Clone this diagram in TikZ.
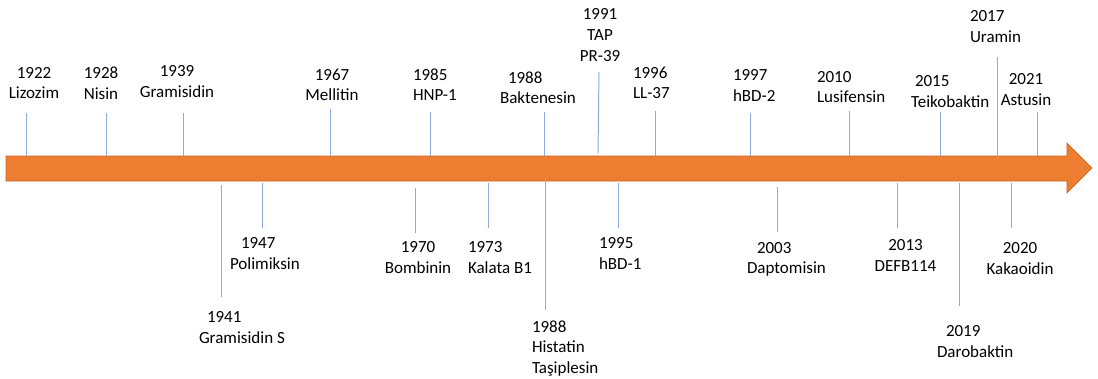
\documentclass[tikz,border=0pt]{standalone}
\usepackage{fontspec}
\setmainfont{Carlito}
\definecolor{arroworange}{HTML}{ED7D31}
\definecolor{arrowedge}{HTML}{C9651F}
\definecolor{tickblue}{HTML}{8FAADC}
\tikzset{
  lbl/.style={font=\fontsize{17}{20.7}\selectfont, inner sep=0pt, outer sep=0pt, text=black},
  lc/.style={lbl, align=center, anchor=north},
  ll/.style={lbl, align=left, anchor=north west},
  tick/.style={draw=tickblue, line width=1pt},
  timearrow/.style={fill=arroworange, draw=arrowedge, line width=0.6pt, line join=miter},
}
\begin{document}
\begin{tikzpicture}[x=1pt,y=-1pt]
\useasboundingbox (0,0) rectangle (1098,378);
% main arrow
\path[timearrow] (6,156) -- (1067,156) -- (1067,143) -- (1092,168) -- (1067,193) -- (1067,181) -- (6,181) -- cycle;

% labels above
\node[lc] (l1922) at (34,67.1) {1922\\Lizozim};
\node[lc] (l1928) at (101,67.1) {1928\\Nisin};
\node[lc] (l1939) at (177,65.6) {1939\\Gramisidin};
\node[lc] (l1967) at (332,68.6) {1967\\Mellitin};
\node[ll] (l1985) at (413,68.6) {1985\\HNP-1};
\node[ll] (l1988a) at (500,71.6) {\hspace{8pt}1988\\Baktenesin};
\node[lc] (l1991) at (600,8.6) {1991\\TAP\\PR-39};
\node[ll] (l1996) at (633,66.6) {1996\\LL-37};
\node[ll] (l1997) at (733,69.6) {1997\\hBD-2};
\node[ll] (l2010) at (817,71.1) {2010\\Lusifensin};
\node[ll] (l2015) at (911,75.6) {\hspace{4pt}2015\\Teikobaktin};
\node[ll] (l2017) at (970,10.6) {2017\\Uramin};
\node[lc] (l2021) at (1026,73.6) {2021\\Astusin};

% labels below
\node[ll] (l1941) at (199,311.6) {\hspace{8pt}1941\\Gramisidin S};
\node[ll] (l1947) at (230,237.6) {\hspace{11pt}1947\\Polimiksin};
\node[lc] (l1970) at (418,241.6) {1970\\Bombinin};
\node[ll] (l1973) at (468,241.6) {1973\\Kalata B1};
\node[ll] (l1988b) at (532,320.6) {1988\\Histatin\\Taşiplesin};
\node[ll] (l1995) at (599,237.6) {1995\\hBD-1};
\node[ll] (l2003) at (747,242.1) {\hspace{10pt}2003\\Daptomisin};
\node[lc] (l2013) at (905.5,239.6) {2013\\DEFB114};
\node[ll] (l2019) at (937,325.6) {\hspace{9pt}2019\\Darobaktin};
\node[lc] (l2020) at (1020,242.6) {2020\\Kakaoidin};

% tick coordinates (top items)
\coordinate (t1922a) at (26,113);   \coordinate (t1922b) at (26,156);
\coordinate (t1928a) at (106,113);  \coordinate (t1928b) at (106,156);
\coordinate (t1939a) at (183,113);  \coordinate (t1939b) at (183,156);
\coordinate (t1967a) at (330,109);  \coordinate (t1967b) at (330,156);
\coordinate (t1985a) at (430,112);  \coordinate (t1985b) at (430,156);
\coordinate (t1988aa) at (544,112); \coordinate (t1988ab) at (544,156);
\coordinate (t1991a) at (599,72);   \coordinate (t1991b) at (598,153);
\coordinate (t1996a) at (655,111);  \coordinate (t1996b) at (655,156);
\coordinate (t1997a) at (750,113);  \coordinate (t1997b) at (750,156);
\coordinate (t2010a) at (849,111);  \coordinate (t2010b) at (849,156);
\coordinate (t2015a) at (940,112);  \coordinate (t2015b) at (940,156);
\coordinate (t2017a) at (997,57);   \coordinate (t2017b) at (997,159);
\coordinate (t2021a) at (1037,112); \coordinate (t2021b) at (1037,156);
% tick coordinates (bottom items)
\coordinate (t1941a) at (221,185);  \coordinate (t1941b) at (221,297);
\coordinate (t1947a) at (262,183);  \coordinate (t1947b) at (262,228);
\coordinate (t1970a) at (415,188);  \coordinate (t1970b) at (415,233);
\coordinate (t1973a) at (488,183);  \coordinate (t1973b) at (488,228);
\coordinate (t1988ba) at (545,178); \coordinate (t1988bb) at (545,310);
\coordinate (t1995a) at (618,183);  \coordinate (t1995b) at (618,228);
\coordinate (t2003a) at (777,187);  \coordinate (t2003b) at (777,232);
\coordinate (t2013a) at (897,183);  \coordinate (t2013b) at (897,228);
\coordinate (t2019a) at (959,183);  \coordinate (t2019b) at (959,306);
\coordinate (t2020a) at (1011,183); \coordinate (t2020b) at (1011,228);

\foreach \t in {1922,1928,1939,1967,1985,1988a,1991,1996,1997,2010,2015,2017,2021,
                1941,1947,1970,1973,1988b,1995,2003,2013,2019,2020}
  \draw[tick] (t\t a) -- (t\t b);
\end{tikzpicture}
\end{document}
